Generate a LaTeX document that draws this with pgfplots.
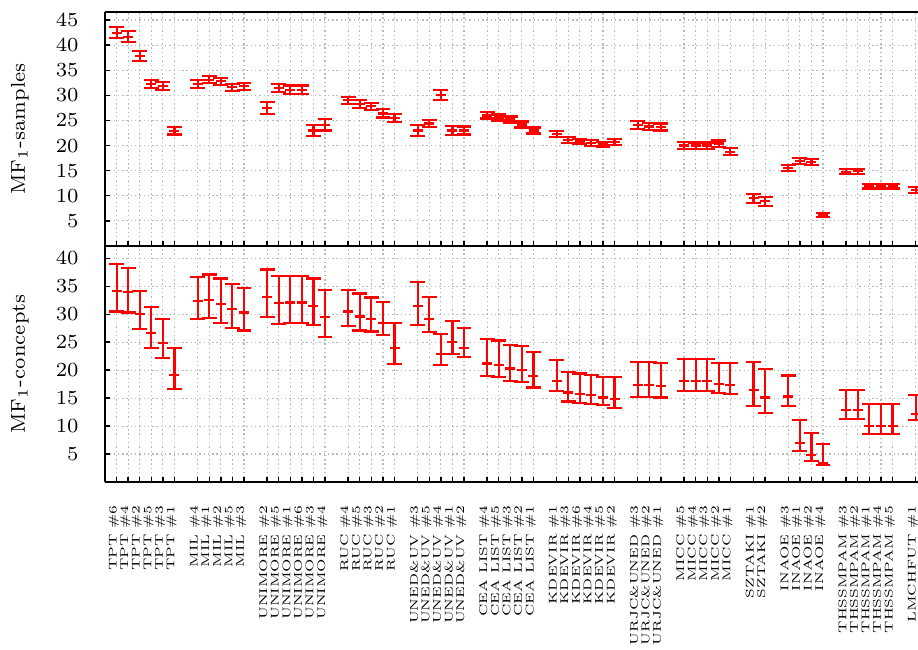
\documentclass[border=0pt]{standalone}
\usepackage{graphicx}
\usepackage{pgfplots}
\usepackage{pgfplotstable}
\pgfplotsset{compat=1.18}

\newcommand{\xl}[1]{\scalebox{0.88}[0.69]{#1}}

% columns: position, value, error up, error down
\pgfplotstableread{
x y ep em
0 42.5 1.1 1.1
1 41.7 1.05 1.05
2 37.9 1.0 1.0
3 32.3 0.8 0.8
4 31.8 0.8 0.8
5 22.95 0.75 0.75
7 32.3 0.8 0.8
8 33.1 0.7 0.7
9 32.8 0.7 0.7
10 31.6 0.7 0.7
11 31.8 0.7 0.7
13 27.5 1.2 1.2
14 31.45 0.85 0.85
15 31.1 0.85 0.85
16 31.1 0.85 0.85
17 23.0 1.15 1.15
18 24.15 1.15 1.15
20 29.0 0.75 0.75
21 28.3 0.75 0.75
22 27.8 0.75 0.75
23 26.4 0.8 0.8
24 25.5 0.8 0.8
26 23.0 1.1 1.1
27 24.4 0.75 0.75
28 30.1 1.0 1.0
29 23.0 0.9 0.9
30 23.0 0.8 0.8
32 26.0 0.6 0.6
33 25.6 0.6 0.6
34 25.2 0.6 0.6
35 24.2 0.6 0.6
36 23.0 0.6 0.6
38 22.3 0.6 0.6
39 21.1 0.55 0.55
40 20.8 0.55 0.55
41 20.5 0.55 0.55
42 20.2 0.55 0.55
43 20.7 0.6 0.6
45 24.1 0.75 0.75
46 23.8 0.7 0.7
47 23.7 0.7 0.7
49 20.0 0.65 0.65
50 20.0 0.6 0.6
51 20.0 0.6 0.6
52 20.4 0.6 0.6
53 18.8 0.65 0.65
55 9.5 0.9 0.9
56 8.9 0.9 0.9
58 15.5 0.6 0.6
59 16.9 0.55 0.55
60 16.7 0.6 0.6
61 6.2 0.45 0.45
63 14.8 0.5 0.5
64 14.9 0.5 0.5
65 11.9 0.45 0.45
66 11.9 0.45 0.45
67 11.9 0.45 0.45
69 11.1 0.6 0.6
}\samples

\pgfplotstableread{
x y ep em
0 34.2 4.8 3.7
1 33.9 4.4 3.6
2 30.05 4.15 2.75
3 26.7 4.55 2.8
4 24.8 4.4 2.7
5 19.2 4.7 2.5
7 32.4 4.3 3.2
8 32.6 4.5 3.3
9 31.9 4.5 3.5
10 31.0 4.4 3.4
11 30.3 4.45 3.2
13 33.1 4.9 3.6
14 32.0 4.8 3.7
15 32.1 4.7 3.6
16 32.1 4.7 3.6
17 31.5 4.9 3.5
18 29.5 4.8 3.5
20 30.5 3.8 2.6
21 29.6 4.1 2.5
22 29.2 3.8 2.3
23 28.5 3.75 2.2
24 23.9 4.6 2.8
26 31.4 4.4 3.3
27 29.2 3.9 2.4
28 22.9 3.6 1.95
29 25.05 3.7 2.15
30 24.0 3.5 1.6
32 21.2 4.3 2.2
33 20.95 4.35 2.2
34 20.3 4.2 2.3
35 20.1 4.2 2.2
36 19.0 4.2 2.1
38 18.0 3.8 1.75
39 16.0 3.7 1.6
40 15.7 3.7 1.5
41 15.5 3.7 1.5
42 15.1 3.75 1.3
43 14.8 4.05 1.6
45 17.4 4.1 2.2
46 17.3 4.2 2.1
47 17.1 4.25 2.0
49 18.0 4.0 1.8
50 18.0 4.0 1.8
51 18.1 3.9 1.9
52 17.55 3.8 1.65
53 17.4 3.85 1.7
55 16.4 5.1 2.8
56 15.1 5.1 2.8
58 15.3 3.75 1.7
59 6.9 4.2 1.3
60 4.8 4.0 1.1
61 3.3 3.5 0.3
63 12.8 3.7 1.5
64 12.8 3.7 1.5
65 10.05 3.95 1.45
66 10.05 3.95 1.45
67 10.05 3.95 1.45
69 12.1 3.4 1.0
}\concepts

\pgfplotsset{
  panel/.style={
    scale only axis,
    width=284.55pt,
    xmin=-1, xmax=69.2, ymin=0,
    axis y line*=left, axis x line*=box,
    axis line style={line width=0.7pt},
    xtick pos=left, ytick pos=left,
    tick align=inside,
    major tick length=1.6pt,
    tick style={black, line width=0.5pt},
    xtick={0,1,2,3,4,5,7,8,9,10,11,13,14,15,16,17,18,20,21,22,23,24,26,27,28,29,30,32,33,34,35,36,38,39,40,41,42,43,45,46,47,49,50,51,52,53,55,56,58,59,60,61,63,64,65,66,67,69},
    grid=major,
    major grid style={gray!55, line width=0.4pt, dash pattern=on 0.5pt off 1.0pt},
    yticklabel style={xshift=-5.7pt},
    ylabel style={at={(axis description cs:-0.0815,0.5)}, anchor=south, rotate=0},
  },
  bars/.style={
    red, line width=0.75pt,
    mark=-, mark size=1.75pt, mark options={line width=0.75pt},
    only marks,
    error bars/.cd, y dir=both, y explicit,
    error bar style={line width=0.75pt},
    error mark options={rotate=90, mark size=2.6pt, line width=0.75pt},
  },
}

\begin{document}
\begin{tikzpicture}[font=\fontsize{7}{8}\selectfont]
\begin{axis}[panel, name=top,
  height=81.9pt, ymax=46.6,
  ytick={5,10,...,45},
  xticklabels={},
  ylabel={MF$_1$-samples},
]
\addplot+[bars] table[x=x, y=y, y error plus=ep, y error minus=em] {\samples};
\end{axis}

\begin{axis}[panel, name=bot,
  at={(top.south west)}, anchor=north west,
  height=82.6pt, ymax=42.2,
  ytick={5,10,...,40},
  ylabel={MF$_1$-concepts},
  xticklabel style={yshift=-4.6pt, xshift=-1pt, rotate=90, anchor=east, font=\fontsize{5.7}{6.5}\selectfont},
  xticklabels={
    {\xl{TPT \#6}},{\xl{TPT \#4}},{\xl{TPT \#2}},{\xl{TPT \#5}},{\xl{TPT \#3}},{\xl{TPT \#1}},
    {\xl{MIL \#4}},{\xl{MIL \#1}},{\xl{MIL \#2}},{\xl{MIL \#5}},{\xl{MIL \#3}},
    {\xl{UNIMORE \#2}},{\xl{UNIMORE \#5}},{\xl{UNIMORE \#1}},{\xl{UNIMORE \#6}},{\xl{UNIMORE \#3}},{\xl{UNIMORE \#4}},
    {\xl{RUC \#4}},{\xl{RUC \#5}},{\xl{RUC \#3}},{\xl{RUC \#2}},{\xl{RUC \#1}},
    {\xl{UNED\&UV \#3}},{\xl{UNED\&UV \#5}},{\xl{UNED\&UV \#4}},{\xl{UNED\&UV \#1}},{\xl{UNED\&UV \#2}},
    {\xl{CEA LIST \#4}},{\xl{CEA LIST \#5}},{\xl{CEA LIST \#3}},{\xl{CEA LIST \#2}},{\xl{CEA LIST \#1}},
    {\xl{KDEVIR \#1}},{\xl{KDEVIR \#3}},{\xl{KDEVIR \#6}},{\xl{KDEVIR \#4}},{\xl{KDEVIR \#5}},{\xl{KDEVIR \#2}},
    {\xl{URJC\&UNED \#3}},{\xl{URJC\&UNED \#2}},{\xl{URJC\&UNED \#1}},
    {\xl{MICC \#5}},{\xl{MICC \#4}},{\xl{MICC \#3}},{\xl{MICC \#2}},{\xl{MICC \#1}},
    {\xl{SZTAKI \#1}},{\xl{SZTAKI \#2}},
    {\xl{INAOE \#3}},{\xl{INAOE \#1}},{\xl{INAOE \#2}},{\xl{INAOE \#4}},
    {\xl{THSSMPAM \#3}},{\xl{THSSMPAM \#2}},{\xl{THSSMPAM \#1}},{\xl{THSSMPAM \#4}},{\xl{THSSMPAM \#5}},
    {\xl{LMCHFUT \#1}}
  },
]
\addplot+[bars] table[x=x, y=y, y error plus=ep, y error minus=em] {\concepts};
\end{axis}

\pgfresetboundingbox
\path[use as bounding box] (top.north west) ++(-36.75pt,4.2pt) rectangle ++(321.3pt,-227.5pt);
\end{tikzpicture}
\end{document}
